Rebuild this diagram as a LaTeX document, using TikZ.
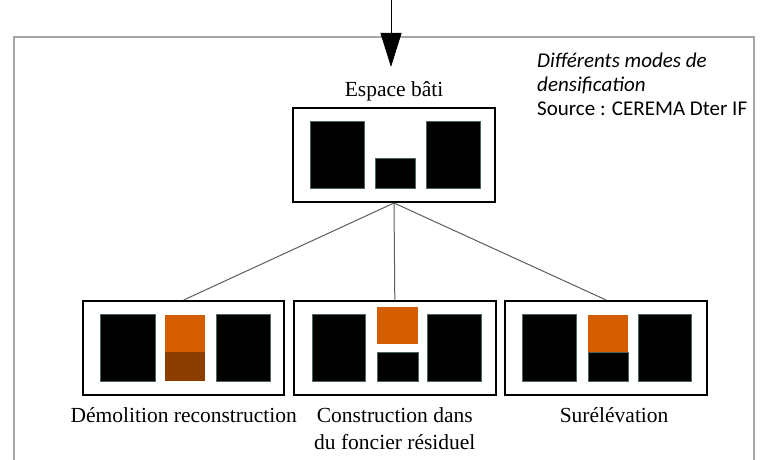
\documentclass[tikz,border=0pt]{standalone}
\usepackage{fontspec}
\setmainfont{Liberation Serif}
\newfontfamily\calibri{Carlito}
\usetikzlibrary{positioning,arrows.meta}
\definecolor{cadre}{RGB}{166,166,166}
\definecolor{neuf}{RGB}{212,94,0}
\definecolor{ancien}{RGB}{140,62,0}
\definecolor{trait}{RGB}{85,95,95}
\definecolor{bord}{RGB}{80,100,95}
\tikzset{
  boite/.style={draw, line width=2bp, minimum width=202bp, minimum height=94bp, inner sep=0pt},
  legende/.style={font=\fontsize{21.5bp}{27bp}\selectfont, inner sep=0pt, align=center},
  bloc/.style={fill=black, draw=bord, line width=0.6bp},
  lien/.style={draw=trait, line width=1bp},
}
\begin{document}
\begin{tikzpicture}[x=1bp,y=-1bp]
    \useasboundingbox (0,0) rectangle (765,460);

    % Gray frame
    \draw[cadre, line width=2.3bp] (13.8,462) -- (13.8,37) -- (754,37) -- (754,462);

    % Incoming arrow
    \coordinate (depart) at (391,0);
    \coordinate (pointe) at (391,67);
    \draw[line width=1bp, -{Triangle[width=21bp,length=34bp]}] (depart) -- (pointe);

    % Caption
    \node[anchor=north west, inner sep=0pt, align=left,
          font=\calibri\fontsize{21bp}{24bp}\selectfont] (source) at (537,53)
          {{\itshape Différents modes de}\\{\itshape densification}\\Source : CEREMA Dter IF};

    % Built space
    \node[boite] (bati) at (394,155) {};
    \node[legende, above=6bp of bati] (batilab) {Espace bâti};
    \fill[bloc] (310.7,121.5) rectangle (364,188.5);
    \fill[bloc] (375,158.3) rectangle (415.7,188.5);
    \fill[bloc] (426,121.5) rectangle (480,188.5);

    % Three modes
    \node[boite, minimum width=201bp] (demo) at (183.7,348) {};
    \node[boite] (resid) at (394.8,348) {};
    \node[boite] (surel) at (606.1,348) {};

    \node[legende, below=11bp of demo] (demolab) {Démolition reconstruction};
    \node[legende, below=11bp of resid] (residlab) {Construction dans\\du foncier résiduel};
    \node[legende, below=11bp of surel, xshift=8bp] (surellab) {Surélévation};

    % Demolition reconstruction
    \fill[bloc] (100.7,314.3) rectangle (155,381);
    \fill[neuf] (164.5,315) rectangle (205.2,351.7);
    \fill[ancien] (164.5,351.7) rectangle (205.2,381);
    \fill[bloc] (216.4,314.3) rectangle (270,381);

    % Residual land
    \fill[bloc] (312,314.3) rectangle (365.4,381);
    \fill[neuf] (377,307) rectangle (418,344);
    \fill[bloc] (377,352) rectangle (418,381);
    \fill[bloc] (427.7,314.3) rectangle (481.1,381);

    % Raising
    \fill[bloc] (522.5,314.3) rectangle (576.7,381);
    \fill[neuf] (588,315) rectangle (628,352.7);
    \fill[bloc] (588,352.7) rectangle (628,381);
    \fill[bloc] (638.1,314.3) rectangle (691.5,381);

    % Links
    \draw[lien] (bati.south) -- (demo.north);
    \draw[lien] (bati.south) -- (resid.north);
    \draw[lien] (bati.south) -- (surel.north);
\end{tikzpicture}
\end{document}
